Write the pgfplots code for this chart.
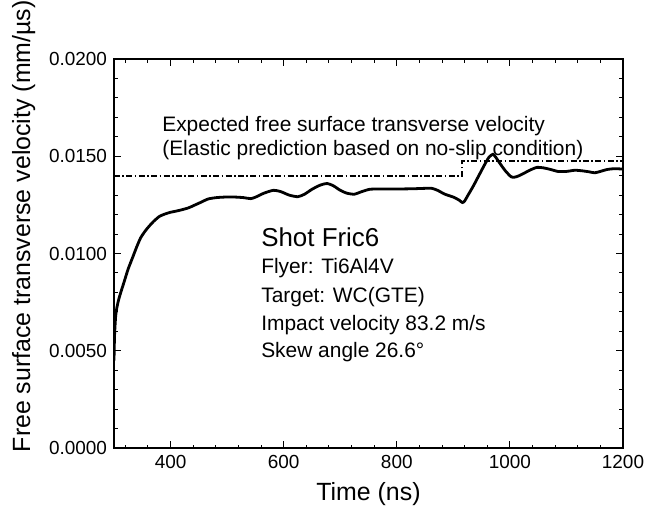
\documentclass[border=0pt]{standalone}
\usepackage{fontspec}
\setmainfont{Liberation Sans}
\usepackage{pgfplots}
\pgfplotsset{compat=1.18}

\begin{document}
\begin{tikzpicture}
\path[use as bounding box] (-57bp,-32.5bp) rectangle (266.5bp,224bp);
\begin{axis}[
  at={(0,0)}, anchor=south west,
  width=254.5bp, height=194.5bp, scale only axis,
  xmin=300, xmax=1200, ymin=0, ymax=0.02,
  xtick={400,600,...,1200},
  xticklabels={400,600,800,1000,1200},
  minor xtick={320,360,...,1160},
  ytick={0,0.005,0.01,0.015,0.02},
  yticklabels={0.0000,0.0050,0.0100,0.0150,0.0200},
  minor y tick num=4,
  scaled y ticks=false,
  tick align=inside, xtick pos=both, ytick pos=both,
  major tick length=3.5bp, minor tick length=1.75bp,
  every tick/.style={black, line width=0.5bp},
  axis line style={line width=0.8bp},
  tick label style={font=\fontsize{9.5}{11}\selectfont},
  xlabel={Time (ns)},
  ylabel={Free surface transverse velocity (mm/µs)},
  label style={font=\fontsize{12.5}{14}\selectfont},
  ylabel style={at={(ticklabel cs:0.57)}},
  clip=true,
]
% measured free surface transverse velocity
\addplot[black, line width=1.4bp, smooth, tension=0.4] coordinates {
  (300,0.0045) (301,0.0058) (303,0.0068) (305,0.0072) (308,0.0076)
  (312,0.0080) (318,0.00855) (325,0.0092) (333,0.0098) (340,0.01033)
  (347,0.0108) (355,0.01115) (362,0.0114) (370,0.01165) (380,0.0119)
  (390,0.01203) (400,0.01212) (410,0.01218) (420,0.01225) (432,0.01235)
  (442,0.01248) (455,0.01265) (466,0.0128) (480,0.01287) (495,0.0129)
  (515,0.0129) (530,0.01287) (542,0.01282) (552,0.01292) (565,0.0131)
  (582,0.01325) (595,0.01318) (610,0.0130) (625,0.01292) (637,0.01305)
  (650,0.0133) (665,0.01352) (677,0.0136) (688,0.01348) (700,0.01325)
  (712,0.0131) (725,0.01305) (738,0.01318) (752,0.0133) (770,0.01332)
  (790,0.01332) (810,0.01332) (830,0.01333) (850,0.01335) (862,0.01335)
  (872,0.01325) (885,0.01305) (900,0.0129) (910,0.01275) (916,0.01262)
  (920,0.0127) (926,0.0130) (935,0.01345) (945,0.0140) (955,0.01455)
  (963,0.01495) (970,0.0151) (975,0.01495) (982,0.01465) (992,0.01425)
  (1003,0.01393) (1012,0.01395) (1022,0.01408) (1035,0.01428) (1048,0.01443)
  (1060,0.0144) (1072,0.01432) (1085,0.01422) (1100,0.01422) (1115,0.01428)
  (1128,0.01425) (1140,0.0142) (1150,0.01415) (1160,0.01422) (1172,0.01432)
  (1185,0.01436) (1200,0.01434)
};
% elastic prediction (no-slip)
\addplot[black, line width=1bp, dash pattern=on 3bp off 1.2bp on 0.8bp off 1.2bp]
  coordinates {(300,0.0140) (916,0.0140) (916,0.01475) (1200,0.01475)};

\node[anchor=base west, font=\fontsize{10.5}{11.7}\selectfont]
  at (axis cs:373,0.01626) {Expected free surface transverse velocity};
\node[anchor=base west, font=\fontsize{10.5}{11.7}\selectfont]
  at (axis cs:373,0.01506) {(Elastic prediction based on no-slip condition)};
\node[anchor=base west, font=\fontsize{13}{15}\selectfont]
  at (axis cs:548,0.01038) {Shot Fric6};
\node[anchor=base west, font=\fontsize{10.5}{12}\selectfont]
  at (axis cs:548,0.00896) {Flyer: Ti6Al4V};
\node[anchor=base west, font=\fontsize{10.5}{12}\selectfont]
  at (axis cs:548,0.0075) {Target: WC(GTE)};
\node[anchor=base west, font=\fontsize{10.5}{12}\selectfont]
  at (axis cs:548,0.00604) {Impact velocity 83.2 m/s};
\node[anchor=base west, font=\fontsize{10.5}{12}\selectfont]
  at (axis cs:548,0.00466) {Skew angle 26.6°};
\end{axis}
\end{tikzpicture}
\end{document}
